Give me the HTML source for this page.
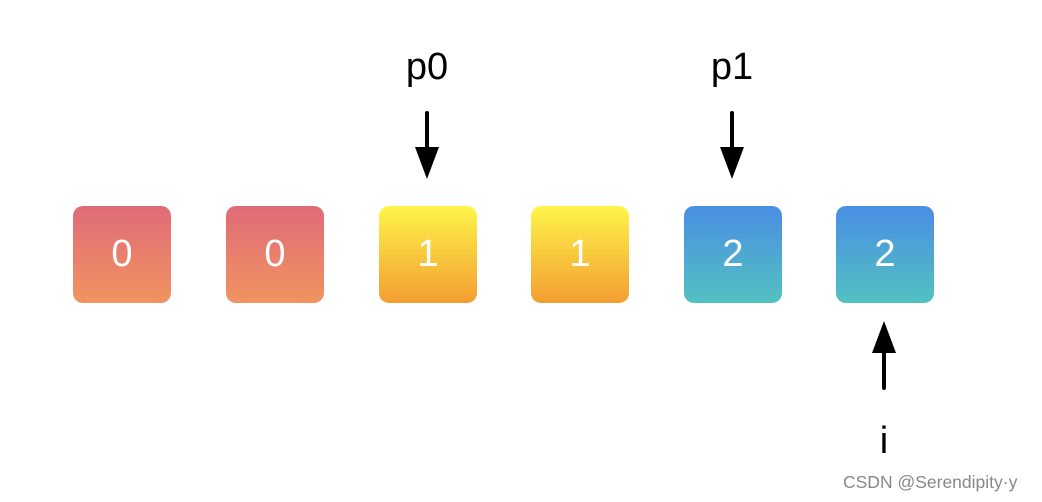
<!DOCTYPE html>
<html><head><style>
body{margin:0;width:1042px;height:502px;background:#fff;position:relative;overflow:hidden;font-family:"Liberation Sans",sans-serif}
.b{position:absolute;top:206px;width:98px;height:97px;border-radius:10px;color:#fff;font-size:38px;line-height:97px;text-align:center}
.r{background:linear-gradient(#e06a78,#f19461)}
.y{background:linear-gradient(#fff44a,#f29e31)}
.c{background:linear-gradient(#4a8ee4,#52c1c1)}
.t{position:absolute;font-size:38px;color:#000;text-align:center;width:100px}
</style></head><body>
<div class="b r" style="left:73px">0</div>
<div class="b r" style="left:226px">0</div>
<div class="b y" style="left:379px">1</div>
<div class="b y" style="left:531px">1</div>
<div class="b c" style="left:684px">2</div>
<div class="b c" style="left:836px">2</div>
<div class="t" style="left:377px;top:46px">p0</div>
<div class="t" style="left:682px;top:46px">p1</div>
<div class="t" style="left:834px;top:420px">i</div>
<svg width="1042" height="502" style="position:absolute;left:0;top:0">
<g stroke="#000" stroke-width="4" stroke-linecap="round">
<line x1="427" y1="113" x2="427" y2="150"/>
<line x1="732" y1="113" x2="732" y2="150"/>
<line x1="884" y1="352" x2="884" y2="388"/>
</g>
<polygon points="415,147 439,147 427,179"/>
<polygon points="720,147 744,147 732,179"/>
<polygon points="872,353 896,353 884,321"/>
</svg>
<div style="position:absolute;left:843px;top:472px;font-size:17.5px;color:#888">CSDN @Serendipity·y</div>
</body></html>
